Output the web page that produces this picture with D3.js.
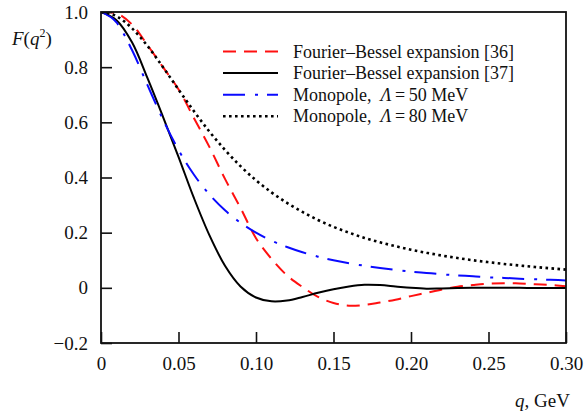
<!DOCTYPE html>
<html>
<head>
<meta charset="utf-8">
<script src="https://cdn.jsdelivr.net/npm/d3@7"></script>
<style>
  body { margin: 0; background: #fff; }
</style>
</head>
<body>
<div id="graf"></div>
<script>
// datos
qValues = [0, 0.01, 0.02, 0.03, 0.04, 0.05, 0.06, 0.07, 0.08, 0.09, 0.10,
           0.11, 0.12, 0.13, 0.14, 0.15, 0.16, 0.17, 0.18, 0.19, 0.20,
           0.21, 0.22, 0.23, 0.24, 0.25, 0.26, 0.27, 0.28, 0.29, 0.30]

fb36 = [1.0, 0.995, 0.955, 0.88, 0.80, 0.72, 0.615, 0.51, 0.395, 0.29, 0.18,
        0.105, 0.045, 0.003, -0.033, -0.055, -0.065, -0.062, -0.053, -0.043, -0.030,
        -0.018, -0.006, 0.004, 0.010, 0.015, 0.017, 0.016, 0.013, 0.010, 0.006]

fb37 = [1.0, 0.97, 0.89, 0.76, 0.62, 0.475, 0.325, 0.19, 0.08, 0.005, -0.035,
        -0.049, -0.046, -0.033, -0.018, -0.005, 0.005, 0.011, 0.010, 0.005, 0.0,
        -0.003, -0.002, -0.001, 0.0, 0.0, 0.0, 0.0, -0.001, -0.001, -0.001]

mono50 = [1.0, 0.962, 0.862, 0.735, 0.610, 0.50, 0.410, 0.338, 0.281, 0.236, 0.20,
          0.171, 0.148, 0.129, 0.113, 0.10, 0.089, 0.080, 0.072, 0.065, 0.059,
          0.054, 0.049, 0.045, 0.042, 0.038, 0.036, 0.033, 0.031, 0.029, 0.027]

mono80 = [1.0, 0.985, 0.941, 0.877, 0.80, 0.719, 0.64, 0.566, 0.50, 0.441, 0.390,
          0.346, 0.308, 0.275, 0.246, 0.221, 0.20, 0.181, 0.165, 0.151, 0.138,
          0.127, 0.117, 0.108, 0.100, 0.093, 0.0865, 0.081, 0.0755, 0.0707, 0.066]

xTicks = [0, 0.05, 0.10, 0.15, 0.20, 0.25, 0.30]
xTickLabels = ['0', '0.05', '0.10', '0.15', '0.20', '0.25', '0.30']
yTicks = [-0.2, 0, 0.2, 0.4, 0.6, 0.8, 1.0]
yTickLabels = ['\u22120.2', '0', '0.2', '0.4', '0.6', '0.8', '1.0']

serif = 'Liberation Serif'

ancho_total = 584
alto_total = 418
margins = { top: 12, left: 101, right: 18, bottom: 75 }
ancho = ancho_total - margins.left - margins.right
alto = alto_total - margins.top - margins.bottom

svg = d3.select('#graf').append('svg')
        .attr('width', ancho_total)
        .attr('height', alto_total)
        .attr('font-family', serif)

g = svg.append('g')
       .attr('transform', `translate(${margins.left},${margins.top})`)

x = d3.scaleLinear().domain([0, 0.30]).range([0, ancho])
y = d3.scaleLinear().domain([-0.2, 1.0]).range([alto, 0])

// CURVAS
series = [
  { name: 'fb36', values: fb36, color: '#ff1010', width: 2, dash: '13,8', curve: d3.curveCatmullRom },
  { name: 'fb37', values: fb37, color: '#000', width: 2, dash: null, curve: d3.curveCatmullRom },
  { name: 'mono50', values: mono50, color: '#0a0aff', width: 2, dash: '22,10,3,9', curve: d3.curveMonotoneX },
  { name: 'mono80', values: mono80, color: '#000', width: 2.6, dash: '2.6,3.4', curve: d3.curveMonotoneX }
]

g.append('defs').append('clipPath').attr('id', 'clip')
  .append('rect').attr('width', ancho).attr('height', alto)

series.forEach(s => {
  line = d3.line()
           .x((d, i) => x(qValues[i]))
           .y(d => y(d))
           .curve(s.curve)
  g.append('path')
   .datum(s.values)
   .attr('clip-path', 'url(#clip)')
   .attr('fill', 'none')
   .attr('stroke', s.color)
   .attr('stroke-width', s.width)
   .attr('stroke-dasharray', s.dash)
   .attr('d', line)
})

// EJES
yAxis = d3.axisLeft(y).tickValues(yTicks)
          .tickFormat((d, i) => yTickLabels[i])
          .tickSizeInner(-11).tickSizeOuter(0).tickPadding(13)
g.append('g').attr('class', 'y axis').call(yAxis)

xAxis = d3.axisBottom(x).tickValues(xTicks)
          .tickFormat((d, i) => xTickLabels[i])
          .tickSizeInner(-11).tickSizeOuter(0).tickPadding(14)
g.append('g').attr('class', 'x axis')
 .attr('transform', `translate(0,${alto})`)
 .call(xAxis)

g.selectAll('.axis').attr('font-family', serif).attr('font-size', 19)
g.selectAll('.axis .domain').remove()
g.selectAll('.axis line').attr('stroke', '#111').attr('stroke-width', 1.6)
g.selectAll('.axis text').attr('fill', '#111')

// marco
g.append('rect')
 .attr('width', ancho).attr('height', alto)
 .attr('fill', 'none').attr('stroke', '#111').attr('stroke-width', 1.8)

// ETIQUETAS
yl = svg.append('text').attr('x', 12).attr('y', 45).attr('font-size', 19).attr('fill', '#111')
yl.append('tspan').attr('font-style', 'italic').text('F')
yl.append('tspan').text('(')
yl.append('tspan').attr('font-style', 'italic').text('q')
yl.append('tspan').attr('dy', -8).attr('font-size', 12).text('2')
yl.append('tspan').attr('dy', 8).text(')')

xl = svg.append('text').attr('x', 570).attr('y', 407).attr('fill', '#111')
        .attr('text-anchor', 'end').attr('font-size', 19)
xl.append('tspan').attr('font-style', 'italic').text('q')
xl.append('tspan').text(', GeV')

// LEYENDAS
legendRows = [
  { s: series[0], parts: [['Fourier\u2013Bessel expansion [36]', 'normal']] },
  { s: series[1], parts: [['Fourier\u2013Bessel expansion [37]', 'normal']] },
  { s: series[2], parts: [['Monopole,\u00a0\u00a0', 'normal'], ['\u039b', 'italic'], ['\u2009=\u200950 MeV', 'normal']] },
  { s: series[3], parts: [['Monopole,\u00a0\u00a0', 'normal'], ['\u039b', 'italic'], ['\u2009=\u200980 MeV', 'normal']] }
]

legend = svg.append('g').attr('class', 'legend')
  .selectAll('g').data(legendRows).enter().append('g')
  .attr('transform', (d, i) => `translate(223,${51.5 + i * 21.6})`)

legend.append('line')
  .attr('x1', 0).attr('x2', 55).attr('y1', 0).attr('y2', 0)
  .attr('stroke', d => d.s.color)
  .attr('stroke-width', d => d.s.width)
  .attr('stroke-dasharray', d => d.s.dash)

legend.each(function(d) {
  t = d3.select(this).append('text')
        .attr('x', 70).attr('y', 6).attr('font-size', 18).attr('fill', '#111')
  d.parts.forEach(p => {
    t.append('tspan').attr('font-style', p[1]).text(p[0])
  })
})
</script>
</body>
</html>
